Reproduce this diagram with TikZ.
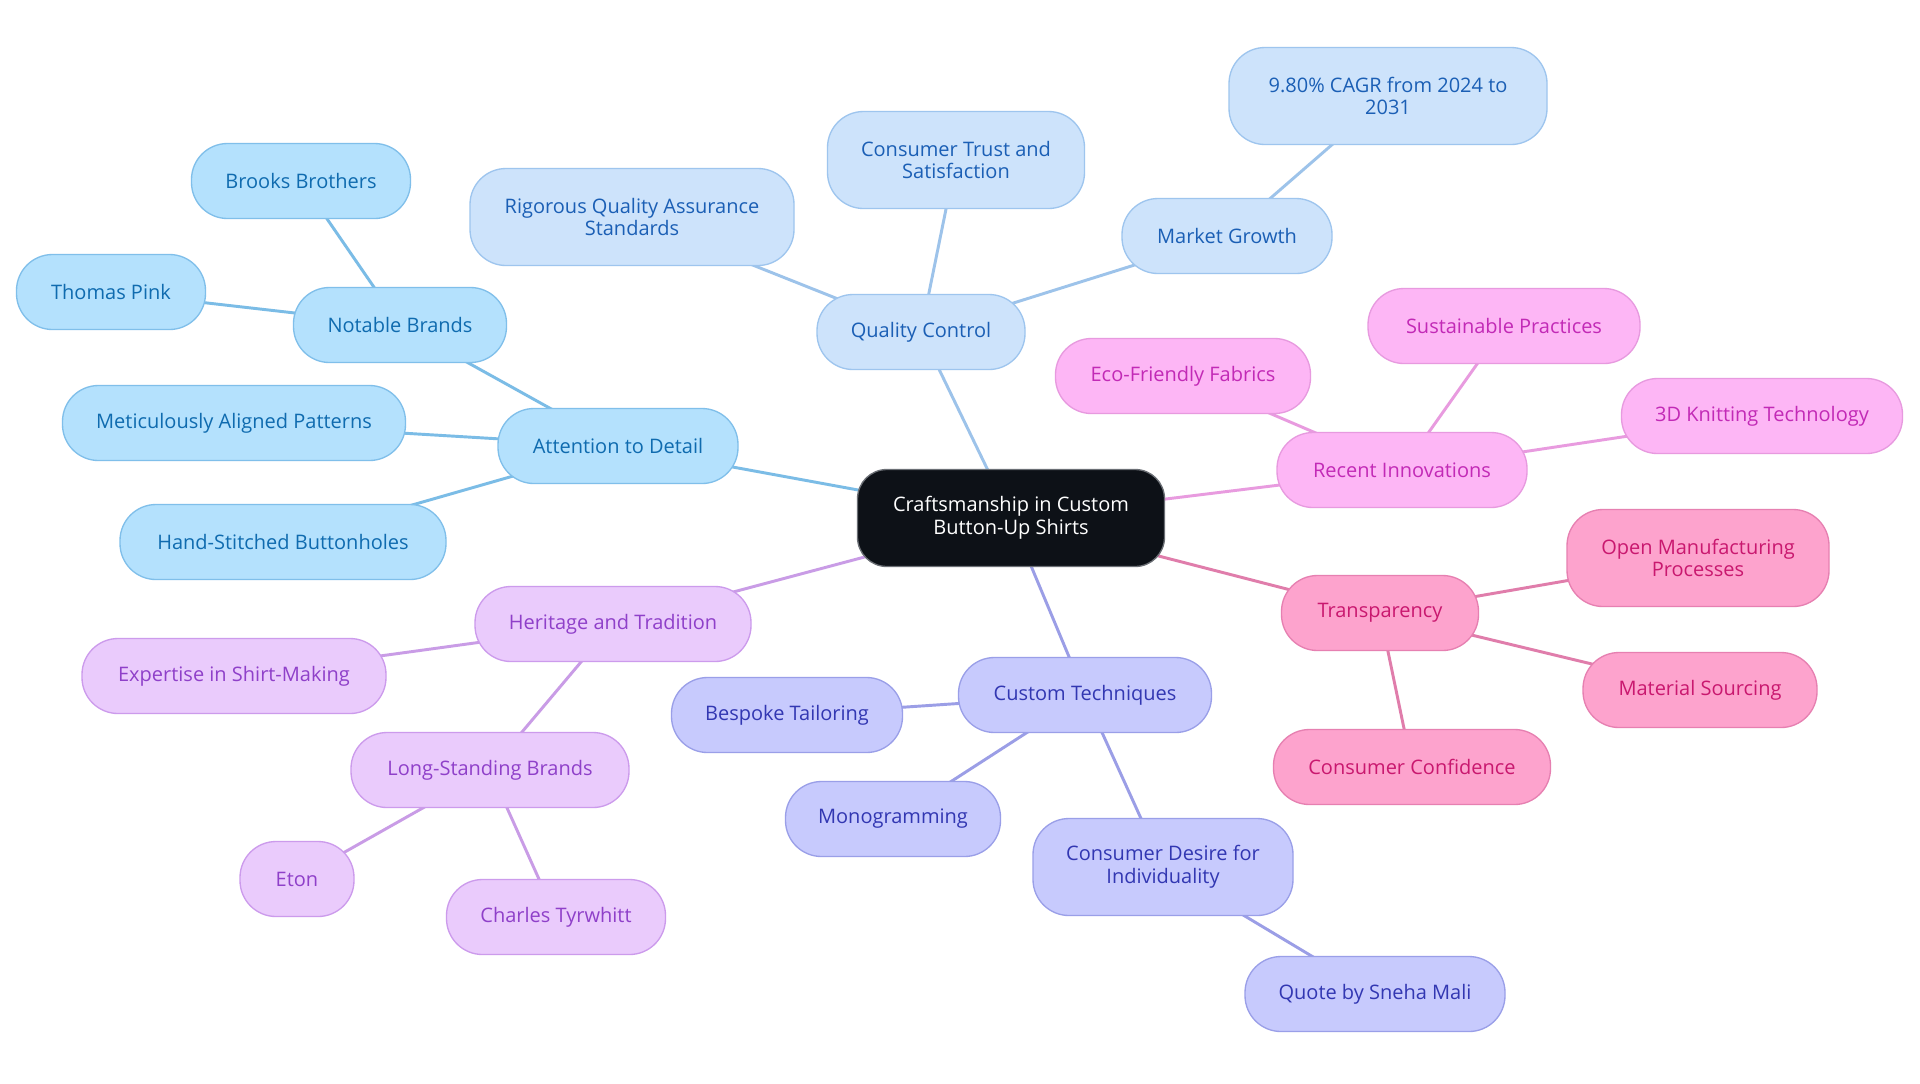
\documentclass[tikz,border=0pt]{standalone}
\usepackage{fontspec}
\setmainfont{Open Sans}
\usetikzlibrary{backgrounds}
\definecolor{afill}{HTML}{B4E1FD}\definecolor{aline}{HTML}{80BFEA}\definecolor{atext}{HTML}{0F6BAF}\definecolor{aedge}{HTML}{7BBCE6}
\definecolor{bfill}{HTML}{CDE3FB}\definecolor{bline}{HTML}{9EC5EE}\definecolor{btext}{HTML}{1B5FB5}\definecolor{bedge}{HTML}{9DC3EA}
\definecolor{cfill}{HTML}{FDB6F5}\definecolor{cline}{HTML}{E79ADF}\definecolor{ctext}{HTML}{C22AB6}\definecolor{cedge}{HTML}{E89BDF}
\definecolor{dfill}{HTML}{FDA3CD}\definecolor{dline}{HTML}{E680B1}\definecolor{dtext}{HTML}{C9186F}\definecolor{dedge}{HTML}{E07DAB}
\definecolor{efill}{HTML}{C7CAFD}\definecolor{eline}{HTML}{9A9FE8}\definecolor{etext}{HTML}{3237B2}\definecolor{eedge}{HTML}{9B9EE6}
\definecolor{ffill}{HTML}{EACBFC}\definecolor{fline}{HTML}{CC9BEC}\definecolor{ftext}{HTML}{8F40C9}\definecolor{fedge}{HTML}{C99CE6}
\definecolor{rootfill}{HTML}{0D1117}\definecolor{rootline}{HTML}{6B6F75}
\tikzset{
  base/.style={rectangle, rounded corners=27pt, line width=1pt, align=center, inner sep=0pt,
    font=\fontsize{15}{17}\selectfont, minimum height=56.25pt},
  two/.style={minimum height=72.75pt},
  mw/.style={minimum width=#1*0.75pt},
  sa/.style={base, fill=afill, draw=aline, text=atext},
  sb/.style={base, fill=bfill, draw=bline, text=btext},
  sc/.style={base, fill=cfill, draw=cline, text=ctext},
  sd/.style={base, fill=dfill, draw=dline, text=dtext},
  se/.style={base, fill=efill, draw=eline, text=etext},
  sf/.style={base, fill=ffill, draw=fline, text=ftext},
  rootbox/.style={base, rounded corners=22pt, fill=rootfill, draw=rootline, text=white, minimum height=72.75pt},
  ea/.style={draw=aedge, line width=2.2pt},
  eb/.style={draw=bedge, line width=2.2pt},
  ec/.style={draw=cedge, line width=2.2pt},
  ed/.style={draw=dedge, line width=2.2pt},
  ee/.style={draw=eedge, line width=2.2pt},
  ef/.style={draw=fedge, line width=2.2pt},
}
\begin{document}
\begin{tikzpicture}[x=0.75pt,y=-0.75pt]
\useasboundingbox (0,0) rectangle (1920,1083);
\node[rootbox, mw=307] (root) at (1011,518) {Craftsmanship in Custom\\Button-Up Shirts};
% A
\node[sa, mw=240] (att) at (618,446) {Attention to Detail};
\node[sa, mw=213] (nb) at (400,325) {Notable Brands};
\node[sa, mw=219] (bb) at (301,181) {Brooks Brothers};
\node[sa, mw=189] (tp) at (111,292) {Thomas Pink};
\node[sa, mw=343] (map) at (234,423) {Meticulously Aligned Patterns};
\node[sa, mw=326] (hsb) at (283,542) {Hand-Stitched Buttonholes};
% B
\node[sb, mw=208] (qc) at (921,332) {Quality Control};
\node[sb, two, mw=324] (rqa) at (632,217) {Rigorous Quality Assurance\\Standards};
\node[sb, two, mw=257] (cts) at (956,160) {Consumer Trust and\\Satisfaction};
\node[sb, mw=210] (mg) at (1227,236) {Market Growth};
\node[sb, two, mw=318] (cagr) at (1388,96) {9.80\% CAGR from 2024 to\\2031};
% C
\node[sc, mw=250] (ri) at (1402,470) {Recent Innovations};
\node[sc, mw=255] (eff) at (1183,376) {Eco-Friendly Fabrics};
\node[sc, mw=272] (sp) at (1504,326) {Sustainable Practices};
\node[sc, mw=281] (kt) at (1762,416) {3D Knitting Technology};
% D
\node[sd, mw=197] (tr) at (1380,613) {Transparency};
\node[sd, two, mw=262] (omp) at (1698,558) {Open Manufacturing\\Processes};
\node[sd, mw=234] (ms) at (1700,690) {Material Sourcing};
\node[sd, mw=277] (cc) at (1412,767) {Consumer Confidence};
% E
\node[se, mw=253] (ct) at (1085,695) {Custom Techniques};
\node[se, mw=231] (bt) at (787,715) {Bespoke Tailoring};
\node[se, mw=215] (mono) at (893,819) {Monogramming};
\node[se, two, mw=260] (cdi) at (1163,867) {Consumer Desire for\\Individuality};
\node[se, mw=260] (qsm) at (1375,994) {Quote by Sneha Mali};
% F
\node[sf, mw=276] (ht) at (613,624) {Heritage and Tradition};
\node[sf, mw=304] (esm) at (234,676) {Expertise in Shirt-Making};
\node[sf, mw=278] (lsb) at (490,770) {Long-Standing Brands};
\node[sf, mw=114] (eton) at (297,879) {Eton};
\node[sf, mw=219] (cty) at (556,917) {Charles Tyrwhitt};
\begin{scope}[on background layer]
\fill[white] (0,0) rectangle (1920,1083);
\draw[ea] (root.center) -- (att.center);
\draw[ea] (att.center) -- (nb.center);
\draw[ea] (nb.center) -- (bb.center);
\draw[ea] (nb.center) -- (tp.center);
\draw[ea] (att.center) -- (map.center);
\draw[ea] (att.center) -- (hsb.center);
\draw[eb] (root.center) -- (qc.center);
\draw[eb] (qc.center) -- (rqa.center);
\draw[eb] (qc.center) -- (cts.center);
\draw[eb] (qc.center) -- (mg.center);
\draw[eb] (mg.center) -- (cagr.center);
\draw[ec] (root.center) -- (ri.center);
\draw[ec] (ri.center) -- (eff.center);
\draw[ec] (ri.center) -- (sp.center);
\draw[ec] (ri.center) -- (kt.center);
\draw[ed] (root.center) -- (tr.center);
\draw[ed] (tr.center) -- (omp.center);
\draw[ed] (tr.center) -- (ms.center);
\draw[ed] (tr.center) -- (cc.center);
\draw[ee] (root.center) -- (ct.center);
\draw[ee] (ct.center) -- (bt.center);
\draw[ee] (ct.center) -- (mono.center);
\draw[ee] (ct.center) -- (cdi.center);
\draw[ee] (cdi.center) -- (qsm.center);
\draw[ef] (root.center) -- (ht.center);
\draw[ef] (ht.center) -- (esm.center);
\draw[ef] (ht.center) -- (lsb.center);
\draw[ef] (lsb.center) -- (eton.center);
\draw[ef] (lsb.center) -- (cty.center);
\end{scope}
\end{tikzpicture}
\end{document}
